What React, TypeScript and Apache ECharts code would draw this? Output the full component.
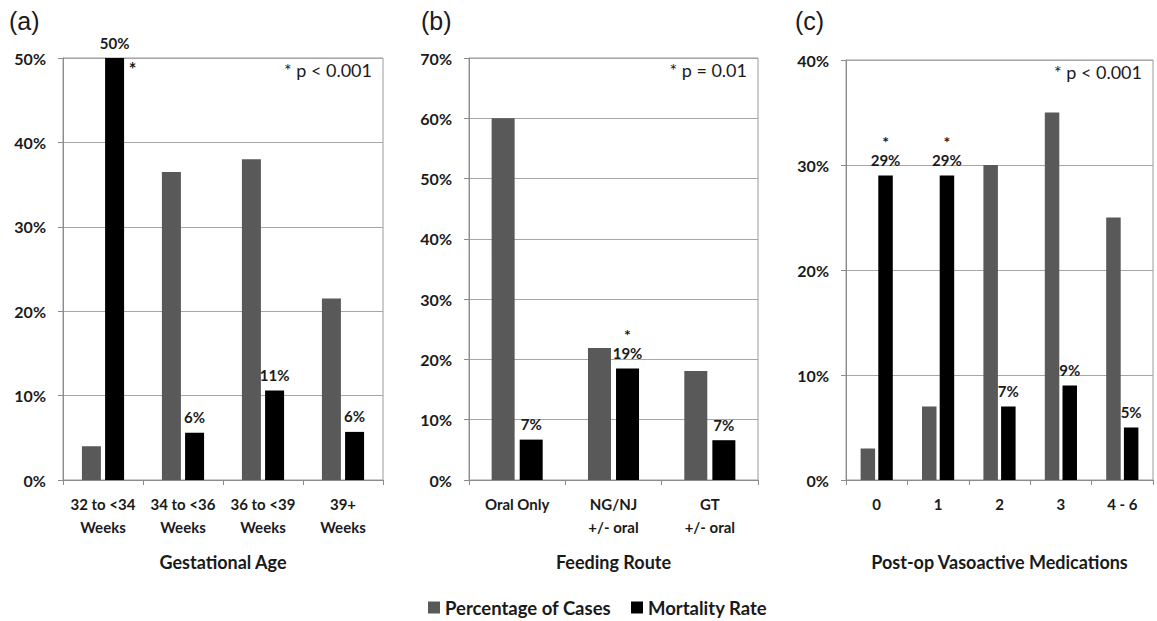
import React, { useEffect, useRef } from "react";
import * as echarts from "echarts";

const seriesNames = ["Percentage of Cases", "Mortality Rate"];

const catsA = ["32 to <34\nWeeks", "34 to <36\nWeeks", "36 to <39\nWeeks", "39+\nWeeks"];
const casesA = [4, 36.5, 38, 21.5];
const mortA = [50, 5.6, 10.6, 5.7];
const sigA = [true, false, false, false];

const catsB = ["Oral Only", "NG/NJ\n+/- oral", "GT\n+/- oral"];
const casesB = [60, 21.9, 18.1];
const mortB = [6.7, 18.5, 6.6];
const sigB = [false, true, false];

const catsC = ["0", "1", "2", "3", "4 - 6"];
const casesC = [3, 7, 30, 35, 25];
const mortC = [29, 29, 7, 9, 5];
const sigC = [true, true, false, false, false];

const yMax = [50, 70, 40];
const pNotes = ["* p < 0.001", "* p = 0.01", "* p < 0.001"];
const axisNames = ["Gestational Age", "Feeding Route", "Post-op Vasoactive Medications"];
const panelLetters = ["(a)", "(b)", "(c)"];

const FONT = "Lato, 'Open Sans', sans-serif";
const GRAY = "#595959";
const BLACK = "#000000";
const TXT = "#1a1a1a";

export default function App() {
  const ref = useRef<HTMLDivElement>(null);
  useEffect(() => {
    if (!ref.current) return;
    const chart = echarts.init(ref.current, undefined, { renderer: "svg" });
    const grids = [
      { left: 63, top: 58, width: 320, height: 422 },
      { left: 469, top: 58, width: 289, height: 422 },
      { left: 846, top: 60, width: 307, height: 420 },
    ];
    const cats = [catsA, catsB, catsC];
    const cases = [casesA, casesB, casesC];
    const morts = [mortA, mortB, mortC];
    const sigs = [sigA, sigB, sigC];
    const barW = [19, 23, 14.5];

    const series: any[] = [];
    for (let i = 0; i < 3; i++) {
      series.push({
        name: seriesNames[0],
        type: "bar",
        xAxisIndex: i,
        yAxisIndex: i,
        data: cases[i],
        barWidth: barW[i],
        barGap: "22%",
        itemStyle: { color: GRAY },
      });
      const sig = sigs[i];
      series.push({
        name: seriesNames[1],
        type: "bar",
        xAxisIndex: i,
        yAxisIndex: i,
        data: morts[i],
        barWidth: barW[i],
        barGap: "22%",
        itemStyle: { color: BLACK },
        label: {
          show: true,
          position: "top",
          distance: 7,
          formatter: (p: any) => {
            const t = Math.round(p.value) + "%";
            return sig[p.dataIndex] && i > 0 ? "{s|*}\n{v|" + t + "}" : "{v|" + t + "}";
          },
          rich: {
            s: { fontFamily: FONT, fontWeight: "bold", fontSize: 16, color: TXT, lineHeight: 20 },
            v: { fontFamily: FONT, fontWeight: "bold", fontSize: 15, color: TXT, lineHeight: 17 },
          },
        },
        markPoint:
          i === 0
            ? {
                symbol: "circle",
                symbolSize: 0,
                silent: true,
                data: [
                  {
                    coord: [0, mortA[0]],
                    label: {
                      show: true,
                      formatter: "*",
                      offset: [18, 11],
                      fontFamily: FONT,
                      fontWeight: "bold",
                      fontSize: 18,
                      color: TXT,
                    },
                  },
                ],
              }
            : undefined,
      });
    }

    const graphics: any[] = [];
    const letterX = [9, 421, 795];
    for (let i = 0; i < 3; i++) {
      graphics.push({
        type: "text",
        left: letterX[i],
        top: 8,
        style: { text: panelLetters[i], fontFamily: "'Liberation Sans', Arial, sans-serif", fontSize: 25, fill: TXT },
      });
      graphics.push({
        type: "text",
        right: 1157 - (grids[i].left + grids[i].width) + 11,
        top: grids[i].top + 3,
        style: { text: pNotes[i], fontFamily: FONT, fontSize: 18, fill: TXT },
      });
    }

    chart.setOption({
      animation: false,
      grid: grids.map((g) => ({ ...g, show: true, borderColor: "#9a9a9a", borderWidth: 1 })),
      xAxis: cats.map((c, i) => ({
        type: "category",
        gridIndex: i,
        data: c,
        name: axisNames[i],
        nameLocation: "middle",
        nameGap: 73,
        nameTextStyle: { fontFamily: FONT, fontWeight: "bold", fontSize: 18, color: TXT },
        axisLine: { lineStyle: { color: "#8c8c8c" } },
        axisTick: { show: true, length: 5, lineStyle: { color: "#8c8c8c" } },
        axisLabel: {
          margin: 12,
          interval: 0,
          fontFamily: FONT,
          fontWeight: "bold",
          fontSize: 15,
          color: TXT,
          lineHeight: 23,
        },
      })),
      yAxis: yMax.map((m, i) => ({
        type: "value",
        gridIndex: i,
        min: 0,
        max: m,
        interval: 10,
        axisLine: { show: true, lineStyle: { color: "#8c8c8c" } },
        axisTick: { show: true, length: 5, lineStyle: { color: "#8c8c8c" } },
        splitLine: { show: true, lineStyle: { color: "#a6a6a6" } },
        axisLabel: {
          margin: 17,
          formatter: "{value}%",
          fontFamily: FONT,
          fontWeight: "bold",
          fontSize: 16,
          color: TXT,
        },
      })),
      legend: {
        data: seriesNames,
        left: 423,
        top: 593,
        itemWidth: 12,
        itemHeight: 12,
        itemGap: 20,
        icon: "rect",
        textStyle: { fontFamily: FONT, fontWeight: "bold", fontSize: 18.5, color: TXT },
      },
      graphic: graphics,
      series,
    });
    return () => chart.dispose();
  }, []);
  return (
    <div
      ref={ref}
      style={{ position: "fixed", left: 0, top: 0, width: 1157, height: 621, background: "#fff" }}
    />
  );
}
